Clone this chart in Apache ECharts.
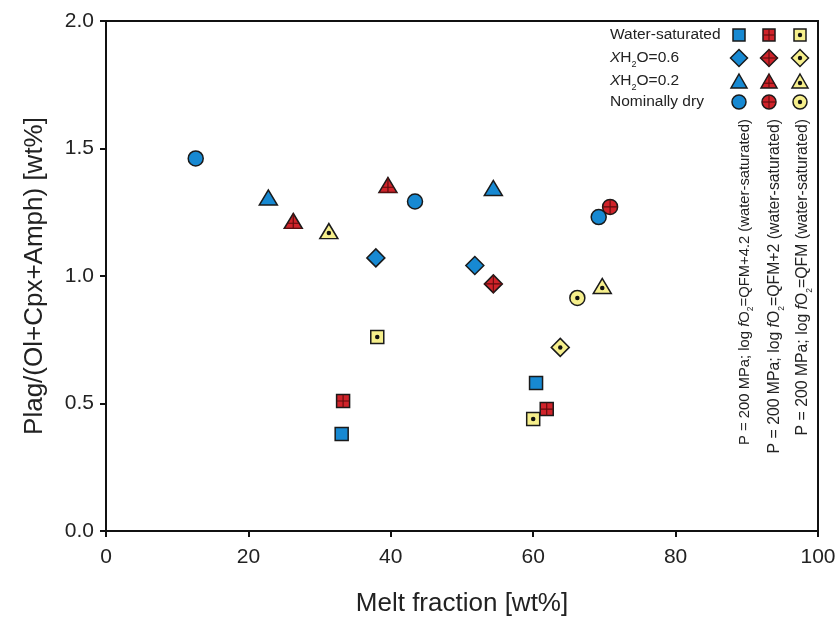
<!DOCTYPE html>
<html>
<head>
<meta charset="utf-8">
<script src="https://cdn.jsdelivr.net/npm/echarts@6/dist/echarts.min.js"></script>
<style>
  html, body { margin: 0; padding: 0; background: #fff; }
  #chart { width: 839px; height: 617px; }
</style>
</head>
<body>
<div id="chart"></div>
<script>
// ---- Data (melt fraction [wt%], Plag/(Ol+Cpx+Amph) [wt%]) ----
// P = 200 MPa; log fO2 = QFM+4.2 (blue)
const qfm42WaterSat = [[33.1, 0.380], [60.4, 0.580]];
const qfm42X06      = [[37.9, 1.071], [51.8, 1.041]];
const qfm42X02      = [[22.8, 1.308], [54.4, 1.345]];
const qfm42Dry      = [[12.6, 1.461], [43.4, 1.292], [69.2, 1.231]];
// P = 200 MPa; log fO2 = QFM+2 (red)
const qfm2WaterSat  = [[33.3, 0.510], [61.9, 0.478]];
const qfm2X06       = [[54.4, 0.969]];
const qfm2X02       = [[26.3, 1.216], [39.6, 1.357]];
const qfm2Dry       = [[70.8, 1.271]];
// P = 200 MPa; log fO2 = QFM (yellow)
const qfmWaterSat   = [[38.1, 0.761], [60.0, 0.439]];
const qfmX06        = [[63.8, 0.720]];
const qfmX02        = [[31.3, 1.176], [69.7, 0.961]];
const qfmDry        = [[66.2, 0.914]];

const xTicks = [0, 20, 40, 60, 80, 100];
const yTicks = [0.0, 0.5, 1.0, 1.5, 2.0];
const conditionNames = ['Water-saturated', 'XH2O=0.6', 'XH2O=0.2', 'Nominally dry'];
const bufferNames = ['QFM+4.2', 'QFM+2', 'QFM'];

// ---- Styles ----
const FONT = 'Liberation Sans, Arial, Helvetica, sans-serif';
const BLUE = '#1789D2';
const RED = '#D0232A';
const YELLOW = '#F6EF8C';
const EDGE = '#1a1a1a';
const PLUS = '#5e0d0d';

const shapes = [
  { symbol: 'rect', size: 13, plus: 'path://M5,0L5,10M0,5L10,5', dotOffset: [0, 0] },
  { symbol: 'diamond', size: 18, plus: 'path://M5,0L5,10M0,5L10,5', dotOffset: [0, 0] },
  { symbol: 'triangle', size: [18, 15], plus: 'path://M5,0L5,10M1.8,6.6L8.2,6.6M0,10L10,10', dotOffset: [0, 2] },
  { symbol: 'circle', size: 15, plus: 'path://M5,0L5,10M0,5L10,5', dotOffset: [0, 0] }
];

const groups = [
  { name: bufferNames[0], color: BLUE, mark: null, sets: [qfm42WaterSat, qfm42X06, qfm42X02, qfm42Dry] },
  { name: bufferNames[1], color: RED, mark: 'plus', sets: [qfm2WaterSat, qfm2X06, qfm2X02, qfm2Dry] },
  { name: bufferNames[2], color: YELLOW, mark: 'dot', sets: [qfmWaterSat, qfmX06, qfmX02, qfmDry] }
];

const series = [];
groups.forEach(g => {
  g.sets.forEach((data, i) => {
    const sh = shapes[i];
    series.push({
      type: 'scatter',
      name: g.name + ' ' + conditionNames[i],
      data: data,
      symbol: sh.symbol,
      symbolSize: sh.size,
      itemStyle: { color: g.color, borderColor: EDGE, borderWidth: 1.5, opacity: 1 },
      emphasis: { disabled: true },
      silent: true
    });
    if (g.mark === 'plus') {
      series.push({
        type: 'scatter',
        name: g.name + ' ' + conditionNames[i] + ' mark',
        data: data,
        symbol: sh.plus,
        symbolSize: sh.size,
        itemStyle: { color: 'rgba(0,0,0,0)', borderColor: PLUS, borderWidth: 1.1, opacity: 1 },
        emphasis: { disabled: true },
        silent: true
      });
    } else if (g.mark === 'dot') {
      series.push({
        type: 'scatter',
        name: g.name + ' ' + conditionNames[i] + ' mark',
        data: data,
        symbol: 'circle',
        symbolSize: 4.5,
        symbolOffset: sh.dotOffset,
        itemStyle: { color: '#111', borderWidth: 0, opacity: 1 },
        emphasis: { disabled: true },
        silent: true
      });
    }
  });
});

// ---- Legend (graphic) ----
const legendCols = [739, 769, 800];
const legendRows = [35, 58, 81, 102];
function markerEls(shapeIdx, color, mark, cx, cy) {
  const st = { fill: color, stroke: EDGE, lineWidth: 1.5 };
  const ps = { stroke: PLUS, lineWidth: 1.1, fill: null };
  const els = [];
  if (shapeIdx === 0) {
    const h = 6;
    els.push({ type: 'rect', shape: { x: cx - h, y: cy - h, width: 2 * h, height: 2 * h }, style: st });
    if (mark === 'plus') {
      els.push({ type: 'polyline', shape: { points: [[cx, cy - h], [cx, cy + h]] }, style: ps });
      els.push({ type: 'polyline', shape: { points: [[cx - h, cy], [cx + h, cy]] }, style: ps });
    }
  } else if (shapeIdx === 1) {
    const h = 8.5;
    els.push({ type: 'polygon', shape: { points: [[cx, cy - h], [cx + h, cy], [cx, cy + h], [cx - h, cy]] }, style: st });
    if (mark === 'plus') {
      els.push({ type: 'polyline', shape: { points: [[cx, cy - h], [cx, cy + h]] }, style: ps });
      els.push({ type: 'polyline', shape: { points: [[cx - h, cy], [cx + h, cy]] }, style: ps });
    }
  } else if (shapeIdx === 2) {
    const w = 8, h = 7;
    els.push({ type: 'polygon', shape: { points: [[cx, cy - h], [cx + w, cy + h], [cx - w, cy + h]] }, style: st });
    if (mark === 'plus') {
      els.push({ type: 'polyline', shape: { points: [[cx, cy - h], [cx, cy + h]] }, style: ps });
      els.push({ type: 'polyline', shape: { points: [[cx - 5.2, cy + 2.2], [cx + 5.2, cy + 2.2]] }, style: ps });
    }
  } else {
    const r = 7;
    els.push({ type: 'circle', shape: { cx: cx, cy: cy, r: r }, style: st });
    if (mark === 'plus') {
      els.push({ type: 'polyline', shape: { points: [[cx, cy - r], [cx, cy + r]] }, style: ps });
      els.push({ type: 'polyline', shape: { points: [[cx - r, cy], [cx + r, cy]] }, style: ps });
    }
  }
  if (mark === 'dot') {
    els.push({ type: 'circle', shape: { cx: cx, cy: cy + (shapeIdx === 2 ? 2 : 0), r: 2.2 }, style: { fill: '#111' } });
  }
  return els;
}

const graphics = [];
const legendLabels = [
  'Water-saturated',
  '{i|X}H{s|2}O=0.6',
  '{i|X}H{s|2}O=0.2',
  'Nominally dry'
];
legendLabels.forEach((t, r) => {
  graphics.push({
    type: 'text', x: 610, y: legendRows[r],
    style: {
      text: t, fontFamily: FONT, fontSize: 15.5, fill: '#222',
      align: 'left', verticalAlign: 'middle',
      rich: {
        i: { fontStyle: 'italic', fontSize: 15.5, fontFamily: FONT, fill: '#222' },
        s: { fontSize: 9, fontFamily: FONT, fill: '#222', verticalAlign: 'bottom', lineHeight: 9, padding: [0, 0, -3, 0] }
      }
    },
    silent: true
  });
});
groups.forEach((g, c) => {
  for (let r = 0; r < 4; r++) {
    markerEls(r, g.color, g.mark, legendCols[c], legendRows[r]).forEach(e => { e.silent = true; graphics.push(e); });
  }
});

const rotX = [745, 775, 803];
const rotTop = 119;
const rotSize = [14.8, 15.8, 15.8];
bufferNames.forEach((b, c) => {
  graphics.push({
    type: 'text', x: rotX[c], y: rotTop, rotation: Math.PI / 2,
    style: {
      text: 'P = 200 MPa; log {i|f}O{s|2}=' + b + ' (water-saturated)',
      fontFamily: FONT, fontSize: rotSize[c], fill: '#222',
      align: 'right', verticalAlign: 'middle',
      rich: {
        i: { fontStyle: 'italic', fontSize: rotSize[c], fontFamily: FONT, fill: '#222' },
        s: { fontSize: 8.5, fontFamily: FONT, fill: '#222', verticalAlign: 'bottom', lineHeight: 8, padding: [0, 0, -3, 0] }
      }
    },
    silent: true
  });
});

const chart = echarts.init(document.getElementById('chart'), null, { renderer: 'canvas' });
chart.setOption({
  animation: false,
  backgroundColor: '#fff',
  textStyle: { fontFamily: FONT },
  grid: { left: 106, right: 21, top: 21, bottom: 86, containLabel: false, outerBoundsMode: 'none', show: true, borderColor: '#111', borderWidth: 2, backgroundColor: 'transparent' },
  xAxis: {
    type: 'value', min: xTicks[0], max: xTicks[xTicks.length - 1], interval: xTicks[1] - xTicks[0],
    name: 'Melt fraction [wt%]', nameLocation: 'middle', nameGap: 60,
    nameTextStyle: { fontSize: 26, color: '#222', fontFamily: FONT },
    axisLine: { show: true, onZero: false, lineStyle: { color: '#111', width: 2 } },
    axisTick: { show: true, length: 6, lineStyle: { color: '#111', width: 2 } },
    axisLabel: { fontSize: 21, color: '#222', margin: 16, fontFamily: FONT },
    splitLine: { show: false }
  },
  yAxis: {
    type: 'value', min: yTicks[0], max: yTicks[yTicks.length - 1], interval: yTicks[1] - yTicks[0],
    name: 'Plag/(Ol+Cpx+Amph) [wt%]', nameLocation: 'middle', nameGap: 58,
    nameTextStyle: { fontSize: 26, color: '#222', fontFamily: FONT },
    axisLine: { show: true, onZero: false, lineStyle: { color: '#111', width: 2 } },
    axisTick: { show: true, length: 6, lineStyle: { color: '#111', width: 2 } },
    axisLabel: { fontSize: 21, color: '#222', margin: 12, fontFamily: FONT, formatter: v => v.toFixed(1) },
    splitLine: { show: false }
  },
  series: series,
  graphic: { elements: graphics }
});
</script>
</body>
</html>
